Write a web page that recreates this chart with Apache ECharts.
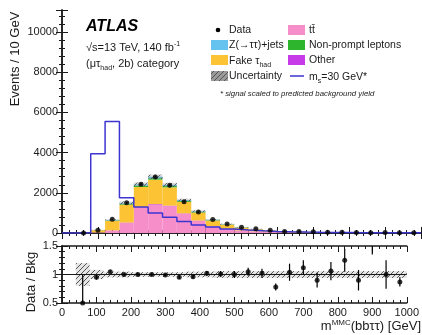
<!DOCTYPE html>
<html>
<head>
<meta charset="utf-8">
<script src="https://cdn.jsdelivr.net/npm/echarts@6/dist/echarts.min.js"></script>
<style>
  html, body { margin: 0; padding: 0; background: #fff; }
  #chart { width: 422px; height: 335px; }
</style>
</head>
<body>
<div id="chart"></div>
<script>
const FONT = '"Liberation Sans", Arial, Helvetica, sans-serif';
const INK = '#1a1a1a';

// 40 GeV bins, lower edges (plus final upper edge)
const binEdges = [0, 40, 80, 120, 160, 200, 240, 280, 320, 360, 400, 440, 480, 520, 560, 600, 640, 680, 720, 760, 800, 840, 880, 920, 960, 1000];

// stacked backgrounds, events per bin (bottom to top)
const ttbar     = [0, 0, 30, 120, 500, 1250, 1400, 1330, 950, 600, 320, 200, 120, 80, 55, 40, 30, 22, 16, 12, 9, 7, 5, 4, 3];
const other     = [0, 0, 2, 10, 20, 30, 35, 30, 25, 20, 15, 10, 8, 6, 4, 3, 2, 2, 2, 1, 1, 1, 1, 1, 1];
const fakeTau   = [0, 8, 108, 475, 890, 1010, 1220, 915, 575, 400, 285, 202, 142, 100, 61, 44, 32, 26, 20, 15, 13, 10, 8, 6, 4];
const nonPrompt = [0, 1, 5, 25, 50, 70, 75, 65, 45, 30, 20, 14, 10, 7, 5, 4, 3, 3, 2, 2, 1, 1, 1, 1, 1];
const zTauTau   = [0, 1, 5, 20, 40, 60, 70, 60, 45, 30, 20, 14, 10, 7, 5, 4, 3, 2, 2, 2, 1, 1, 1, 1, 1];
// relative background uncertainty
const bkgUnc    = [0, 0.2, 0.08, 0.05, 0.05, 0.04, 0.04, 0.04, 0.04, 0.05, 0.05, 0.06, 0.06, 0.06, 0.06, 0.06, 0.06, 0.06, 0.06, 0.06, 0.06, 0.06, 0.06, 0.06, 0.06];

// signal, m_s = 30 GeV (scaled)
const signal    = [0, 0, 3950, 5550, 1750, 1300, 1000, 780, 570, 400, 300, 200, 150, 110, 80, 60, 45, 35, 28, 22, 18, 15, 12, 10, 8];

// data
const dataVals  = [null, 5, 140, 680, 1500, 2430, 2790, 2380, 1560, 1040, 670, 445, 290, 210, 133, 71, 73, 62, 38, 34, 31, 18, 28, 13, 9];
const dataErr   = [0, 3, 12, 26, 39, 49, 53, 49, 40, 32, 26, 21, 17, 14, 12, 8, 9, 8, 6, 6, 6, 4, 5, 4, 3];

// ratio panel
const ratioVals = [null, 0.5, 0.95, 1.05, 1.0, 1.0, 1.0, 0.99, 0.95, 0.96, 1.02, 1.01, 1.0, 1.05, 1.02, 0.78, 1.04, 1.12, 0.9, 1.06, 1.25, 0.9, 1.75, 1.0, 0.87];
const ratioErr  = [0, 0.5, 0.04, 0.02, 0.02, 0.02, 0.02, 0.02, 0.03, 0.03, 0.04, 0.05, 0.06, 0.07, 0.08, 0.06, 0.15, 0.13, 0.13, 0.16, 0.2, 0.18, 0.4, 0.25, 0.08];

const stackDefs = [
  { name: 'ttbar', vals: ttbar, color: '#f68fc9' },
  { name: 'Other', vals: other, color: '#c73ae8' },
  { name: 'Fake', vals: fakeTau, color: '#fcc434' },
  { name: 'Non-prompt', vals: nonPrompt, color: '#2db52d' },
  { name: 'Ztt', vals: zTauTau, color: '#66c3ef' },
];

function hatch(color, bg) {
  const c = document.createElement('canvas');
  c.width = 5; c.height = 5;
  const g = c.getContext('2d');
  if (bg) { g.fillStyle = bg; g.fillRect(0, 0, 5, 5); }
  g.strokeStyle = color; g.lineWidth = 1;
  g.beginPath();
  g.moveTo(0, 5); g.lineTo(5, 0);
  g.moveTo(-1, 1); g.lineTo(1, -1);
  g.moveTo(4, 6); g.lineTo(6, 4);
  g.stroke();
  return c;
}
const hatchTop = { image: hatch('rgba(80,80,80,0.8)', 'rgba(140,140,140,0.3)'), repeat: 'repeat' };
const hatchRatio = { image: hatch('rgba(70,70,70,0.9)', 'rgba(150,150,150,0.25)'), repeat: 'repeat' };
const hatchLegend = { image: hatch('#555', '#9a9a9a'), repeat: 'repeat' };

const nBins = binEdges.length - 1;
const totals = new Array(nBins).fill(0);
const stackSeries = stackDefs.map((s) => {
  const rows = [];
  for (let i = 0; i < nBins; i++) {
    const base = totals[i];
    totals[i] += s.vals[i];
    if (s.vals[i] > 0) rows.push([binEdges[i], binEdges[i + 1], base, totals[i]]);
  }
  return {
    type: 'custom', name: s.name, xAxisIndex: 0, yAxisIndex: 0,
    encode: { x: [0, 1], y: [2, 3] },
    renderItem: rectItem(s.color),
    data: rows, silent: true, z: 2,
  };
});

function rectItem(fill) {
  return (params, api) => {
    const p0 = api.coord([api.value(0), api.value(3)]);
    const p1 = api.coord([api.value(1), api.value(2)]);
    return {
      type: 'rect',
      shape: { x: p0[0], y: p0[1], width: p1[0] - p0[0], height: p1[1] - p0[1] },
      style: { fill: fill },
    };
  };
}

function errItem(color) {
  return (params, api) => {
    const a = api.coord([api.value(0), api.value(1) - api.value(2)]);
    const b = api.coord([api.value(0), api.value(1) + api.value(2)]);
    return { type: 'line', shape: { x1: a[0], y1: a[1], x2: b[0], y2: b[1] }, style: { stroke: color, lineWidth: 1.2 } };
  };
}

const uncRows = [], ratioBand = [], dataPts = [], dataBars = [], ratioPts = [], ratioBars = [];
for (let i = 0; i < nBins; i++) {
  const c = (binEdges[i] + binEdges[i + 1]) / 2;
  if (totals[i] > 0) {
    uncRows.push([binEdges[i], binEdges[i + 1], totals[i] * (1 - bkgUnc[i]), totals[i] * (1 + bkgUnc[i])]);
    ratioBand.push([binEdges[i], binEdges[i + 1], 1 - bkgUnc[i], 1 + bkgUnc[i]]);
  }
  if (dataVals[i] != null) {
    dataPts.push([c, dataVals[i]]);
    dataBars.push([c, dataVals[i], dataErr[i]]);
  }
  if (ratioVals[i] != null) {
    ratioPts.push([c, ratioVals[i]]);
    ratioBars.push([c, ratioVals[i], ratioErr[i]]);
  }
}
const signalLine = signal.map((v, i) => [binEdges[i], v]).concat([[binEdges[nBins], signal[nBins - 1]]]);

const tickStyle = { inside: true, length: 6, lineStyle: { color: INK, width: 1 } };
const minorStyle = { show: true, splitNumber: 5, length: 3, lineStyle: { color: INK, width: 1 } };
const lineStyle = { show: true, lineStyle: { color: INK, width: 1.5 } };
const labelStyle = { color: INK, fontFamily: FONT, fontSize: 11, formatter: (v) => String(v) };

function xAx(grid, pos, labels) {
  return {
    type: 'value', gridIndex: grid, position: pos, min: 0, max: 1000, interval: 100,
    axisLine: lineStyle, axisTick: tickStyle, minorTick: minorStyle, splitLine: { show: false },
    axisLabel: labels ? Object.assign({ margin: 4, alignMinLabel: 'center', alignMaxLabel: 'center' }, labelStyle) : { show: false },
  };
}
function yAx(grid, pos, min, max, interval, labels) {
  return {
    type: 'value', gridIndex: grid, position: pos, min: min, max: max, interval: interval,
    axisLine: lineStyle, axisTick: tickStyle, minorTick: minorStyle, splitLine: { show: false },
    axisLabel: labels ? Object.assign({ margin: 4, showMaxLabel: max % interval === 0 }, labelStyle) : { show: false },
  };
}

const subRich = { sub: { font: '7px ' + FONT, fill: INK, padding: [9, 0, 0, 0] } };

const chart = echarts.init(document.getElementById('chart'), null, { renderer: 'canvas' });
chart.setOption({
  animation: false,
  backgroundColor: '#fff',
  grid: [
    { left: 62, right: 1, top: 10, height: 223 },
    { left: 62, right: 1, top: 246, height: 57 },
  ],
  xAxis: [xAx(0, 'bottom', false), xAx(0, 'top', false), xAx(1, 'bottom', true), xAx(1, 'top', false)],
  yAxis: [
    yAx(0, 'left', 0, 11100, 2000, true), yAx(0, 'right', 0, 11100, 2000, false),
    yAx(1, 'left', 0.5, 1.5, 0.5, true), yAx(1, 'right', 0.5, 1.5, 0.5, false),
  ],
  series: stackSeries.concat([
    {
      type: 'custom', name: 'Uncertainty', xAxisIndex: 0, yAxisIndex: 0,
      encode: { x: [0, 1], y: [2, 3] }, renderItem: rectItem(hatchTop), data: uncRows, silent: true, z: 3,
    },
    {
      type: 'line', name: 'signal', xAxisIndex: 0, yAxisIndex: 0, step: 'end', data: signalLine,
      showSymbol: false, lineStyle: { color: '#3d35d2', width: 1.5 }, silent: true, z: 4,
    },
    {
      type: 'custom', xAxisIndex: 0, yAxisIndex: 0, encode: { x: 0, y: 1 },
      renderItem: errItem('#000'), data: dataBars, silent: true, z: 5,
    },
    {
      type: 'scatter', name: 'Data', xAxisIndex: 0, yAxisIndex: 0, data: dataPts,
      symbol: 'circle', symbolSize: 5, itemStyle: { color: '#000' }, silent: true, z: 6,
    },
    {
      type: 'custom', xAxisIndex: 2, yAxisIndex: 2, encode: { x: [0, 1], y: [2, 3] },
      renderItem: rectItem(hatchRatio), data: ratioBand, silent: true, z: 2,
    },
    {
      type: 'custom', xAxisIndex: 2, yAxisIndex: 2, encode: { x: 0, y: 1 }, clip: true,
      renderItem: errItem('#000'), data: ratioBars, silent: true, z: 5,
    },
    {
      type: 'scatter', xAxisIndex: 2, yAxisIndex: 2, data: ratioPts, clip: true,
      symbol: 'circle', symbolSize: 5, itemStyle: { color: '#000' }, silent: true, z: 6,
      markLine: {
        silent: true, symbol: 'none', label: { show: false },
        lineStyle: { color: INK, width: 1, type: 'solid' }, data: [{ yAxis: 1 }],
      },
    },
  ]),
  graphic: [
    // axis titles
    { type: 'text', x: 15, y: 59, rotation: Math.PI / 2,
      style: { text: 'Events / 10 GeV', font: '13px ' + FONT, fill: INK, align: 'center', verticalAlign: 'middle' } },
    { type: 'text', x: 31, y: 282, rotation: Math.PI / 2,
      style: { text: 'Data / Bkg', font: '13px ' + FONT, fill: INK, align: 'center', verticalAlign: 'middle' } },
    { type: 'text', x: 421, y: 334,
      style: { text: 'm{sup|MMC}(bbττ) [GeV]', font: '13px ' + FONT, fill: INK, align: 'right', verticalAlign: 'bottom',
        rich: { sup: { font: '8px ' + FONT, fill: INK, padding: [0, 0, 7, 0] } } } },
    // ATLAS block
    { type: 'text', x: 86, y: 19,
      style: { text: 'ATLAS', font: 'italic bold 16px ' + FONT, fill: '#000' } },
    { type: 'text', x: 86, y: 41,
      style: { text: '√s=13 TeV, 140 fb{sup|-1}', font: '11px ' + FONT, fill: INK,
        rich: { sup: { font: '7px ' + FONT, fill: INK, padding: [0, 0, 6, 0] } } } },
    { type: 'text', x: 86, y: 56,
      style: { text: '(μτ{sub|had}, 2b) category', font: '11px ' + FONT, fill: INK, rich: subRich } },
    // legend column 1
    { type: 'circle', shape: { cx: 218, cy: 30, r: 2.3 }, style: { fill: '#000' } },
    { type: 'text', x: 229, y: 30, style: { text: 'Data', font: '10.5px ' + FONT, fill: INK, verticalAlign: 'middle' } },
    { type: 'rect', shape: { x: 211, y: 40, width: 17, height: 10 }, style: { fill: '#66c3ef' } },
    { type: 'text', x: 229, y: 45, style: { text: 'Z(→ττ)+jets', font: '10.5px ' + FONT, fill: INK, verticalAlign: 'middle' } },
    { type: 'rect', shape: { x: 211, y: 55, width: 17, height: 10 }, style: { fill: '#fcc434' } },
    { type: 'text', x: 229, y: 61,
      style: { text: 'Fake τ{sub|had}', font: '10.5px ' + FONT, fill: INK, verticalAlign: 'middle', rich: subRich } },
    { type: 'rect', shape: { x: 211, y: 71, width: 17, height: 10 }, style: { fill: hatchLegend } },
    { type: 'text', x: 229, y: 76, style: { text: 'Uncertainty', font: '10.5px ' + FONT, fill: INK, verticalAlign: 'middle' } },
    // legend column 2
    { type: 'rect', shape: { x: 288, y: 25, width: 17, height: 10 }, style: { fill: '#f68fc9' } },
    { type: 'text', x: 309, y: 30, style: { text: 'tt̄', font: '10.5px ' + FONT, fill: INK, verticalAlign: 'middle' } },
    { type: 'rect', shape: { x: 288, y: 40, width: 17, height: 10 }, style: { fill: '#2db52d' } },
    { type: 'text', x: 309, y: 45, style: { text: 'Non-prompt leptons', font: '10.5px ' + FONT, fill: INK, verticalAlign: 'middle' } },
    { type: 'rect', shape: { x: 288, y: 55, width: 17, height: 10 }, style: { fill: '#c73ae8' } },
    { type: 'text', x: 309, y: 60, style: { text: 'Other', font: '10.5px ' + FONT, fill: INK, verticalAlign: 'middle' } },
    { type: 'line', shape: { x1: 290, y1: 76, x2: 304, y2: 76 }, style: { stroke: '#3d35d2', lineWidth: 1.5 } },
    { type: 'text', x: 309, y: 77,
      style: { text: 'm{sub|s}=30 GeV*', font: '10.5px ' + FONT, fill: INK, verticalAlign: 'middle', rich: subRich } },
    { type: 'text', x: 220, y: 94,
      style: { text: '* signal scaled to predicted background yield', font: 'italic 7.8px ' + FONT, fill: INK, verticalAlign: 'middle' } },
  ],
});
</script>
</body>
</html>
